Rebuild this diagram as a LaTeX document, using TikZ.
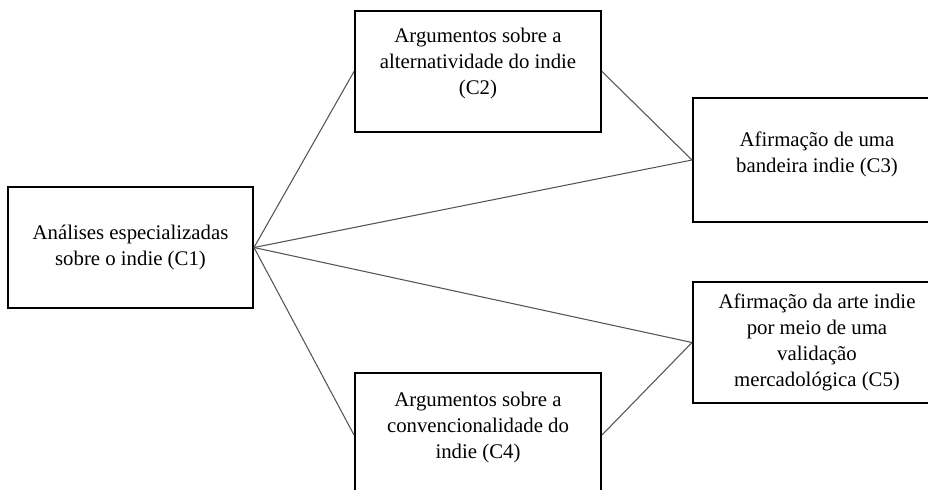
\documentclass[tikz,border=0pt]{standalone}
\usepackage{fontspec}
\setmainfont{Liberation Serif}
\usepackage{tikz}
\usetikzlibrary{positioning}
\definecolor{linkgray}{RGB}{85,85,85}

\begin{document}
\begin{tikzpicture}[
  x=0.75pt, y=-0.75pt,
  catbox/.style={draw, line width=1.5pt, minimum width=184.5pt, minimum height=90.75pt,
               align=center, inner sep=2pt, font=\fontsize{15.6}{19.5}\selectfont},
  link/.style={line width=0.8pt, linkgray}
]
  \useasboundingbox (0,0) rectangle (928,489);
  \clip (0,0) rectangle (928,489);

  \node[catbox, minimum width=183.75pt] (c1) at (130.5,247.5) {Análises especializadas\\sobre o indie (C1)};
  \node[catbox, text depth=16pt] (c2) at (478,71.5) {Argumentos sobre a\\alternatividade do indie\\(C2)};
  \node[catbox, minimum width=186pt, minimum height=93pt, text depth=12pt] (c3) at (817,160) {Afirmação de uma\\bandeira indie (C3)};
  \node[catbox, minimum height=93pt, text depth=14.5pt] (c4) at (478,435) {Argumentos sobre a\\convencionalidade do\\indie (C4)};
  \node[catbox, minimum width=186pt] (c5) at (817,342.5) {Afirmação da arte indie\\por meio de uma\\validação\\mercadológica (C5)};

  \draw[link] (c1.east) -- (c2.west);
  \draw[link] (c1.east) -- (c3.west);
  \draw[link] (c1.east) -- (c5.west);
  \draw[link] (c1.east) -- (c4.west);
  \draw[link] (c2.east) -- (c3.west);
  \draw[link] (c4.east) -- (c5.west);
\end{tikzpicture}
\end{document}
